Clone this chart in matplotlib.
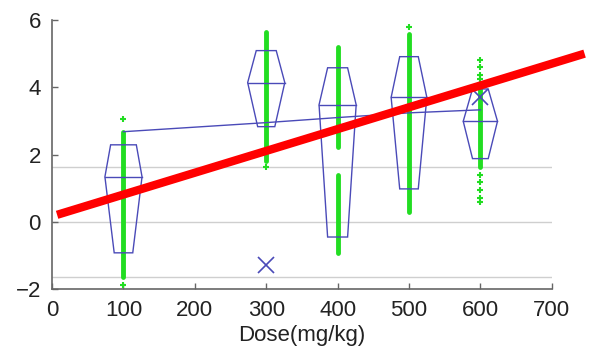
"""
Dose-response chart: box/violin-like outlines per dose, green observation
columns, a mean line and a red fitted trend.
"""

import matplotlib
matplotlib.use('Agg')
import matplotlib.pyplot as plt
from matplotlib.patches import Polygon

plt.rcParams['font.family'] = ['Liberation Sans', 'DejaVu Sans']

# doses
doses = [100, 300, 400, 500, 600]

# box outline: upper bar, median, lower bar
box_top = [2.29, 5.09, 4.58, 4.91, 3.95]
box_med = [1.34, 4.14, 3.48, 3.70, 2.99]
box_bot = [-0.92, 2.83, -0.45, 0.98, 1.88]
# half widths (in dose units) of upper bar, median, lower bar
half_top = [18, 14, 14, 13, 11]
half_med = [26, 26, 26, 25, 24]
half_bot = [13, 12, 14, 13, 11]

# mean line
mean_vals = [2.68, 2.95, 3.10, 3.24, 3.33]

# crosses
cross_x = [300, 600]
cross_y = [-1.28, 3.72]

# dense green observation ranges (dose, low, high)
dense_dose = [100, 300, 400, 400, 500, 600]
dense_lo = [-1.64, 1.80, 2.24, -0.92, 0.30, 1.64]
dense_hi = [2.68, 5.65, 5.20, 1.40, 5.57, 4.14]

# isolated green observations
sparse_dose = [100, 100, 300, 500, 600, 600, 600, 600, 600, 600, 600, 600, 600]
sparse_val = [3.07, -1.88, 1.64, 5.80, 4.82, 4.60, 4.38, 1.40, 1.18, 0.95, 0.72, 0.60, 4.25]

# reference lines
ref_levels = [1.64, 0.0, -1.64]

# red trend line end points
trend_x = [7, 746]
trend_y = [0.21, 5.0]

blue = '#4a4ab8'
green = '#22dd22'

fig = plt.figure(figsize=(5.92, 3.57), dpi=100)
ax = fig.add_axes([0.088, 0.19, 0.844, 0.754])

for lv in ref_levels:
    ax.axhline(lv, color='#cfcfcf', lw=1, zorder=1)

# green observations
for d, lo, hi in zip(dense_dose, dense_lo, dense_hi):
    ax.plot([d, d], [lo, hi], color=green, lw=3.5, solid_capstyle='round', zorder=2)
ax.plot(sparse_dose, sparse_val, '+', color=green, ms=4, mew=1.5, zorder=2)

# box outlines
for i, d in enumerate(doses):
    pts = [(d - half_top[i], box_top[i]), (d + half_top[i], box_top[i]),
           (d + half_med[i], box_med[i]), (d + half_bot[i], box_bot[i]),
           (d - half_bot[i], box_bot[i]), (d - half_med[i], box_med[i])]
    ax.add_patch(Polygon(pts, closed=True, fill=False, edgecolor=blue, lw=1, zorder=3))
    ax.plot([d - half_med[i], d + half_med[i]], [box_med[i]] * 2, color=blue, lw=1, zorder=3)

ax.plot(doses, mean_vals, color=blue, lw=1, zorder=3)
ax.plot(cross_x, cross_y, 'x', color=blue, ms=12, mew=1.2, zorder=4)

# red trend
ax.plot(trend_x, trend_y, color='#ff0000', lw=6, solid_capstyle='butt',
        clip_on=False, zorder=5)

ax.set_xlim(0, 700)
ax.set_ylim(-2, 6)
ax.set_xticks(range(0, 701, 100))
ax.set_yticks([-2, 0, 2, 4, 6])
for s in ['top', 'right']:
    ax.spines[s].set_visible(False)
for s in ['left', 'bottom']:
    ax.spines[s].set_color('#666666')
    ax.spines[s].set_linewidth(1.2)
ax.tick_params(direction='in', length=4, width=1, color='#666666',
               labelsize=16, labelcolor='#222222', pad=8)
ax.set_xlabel('Dose(mg/kg)', fontsize=16, color='#222222', labelpad=3)

fig.savefig('out.png', dpi=100)
